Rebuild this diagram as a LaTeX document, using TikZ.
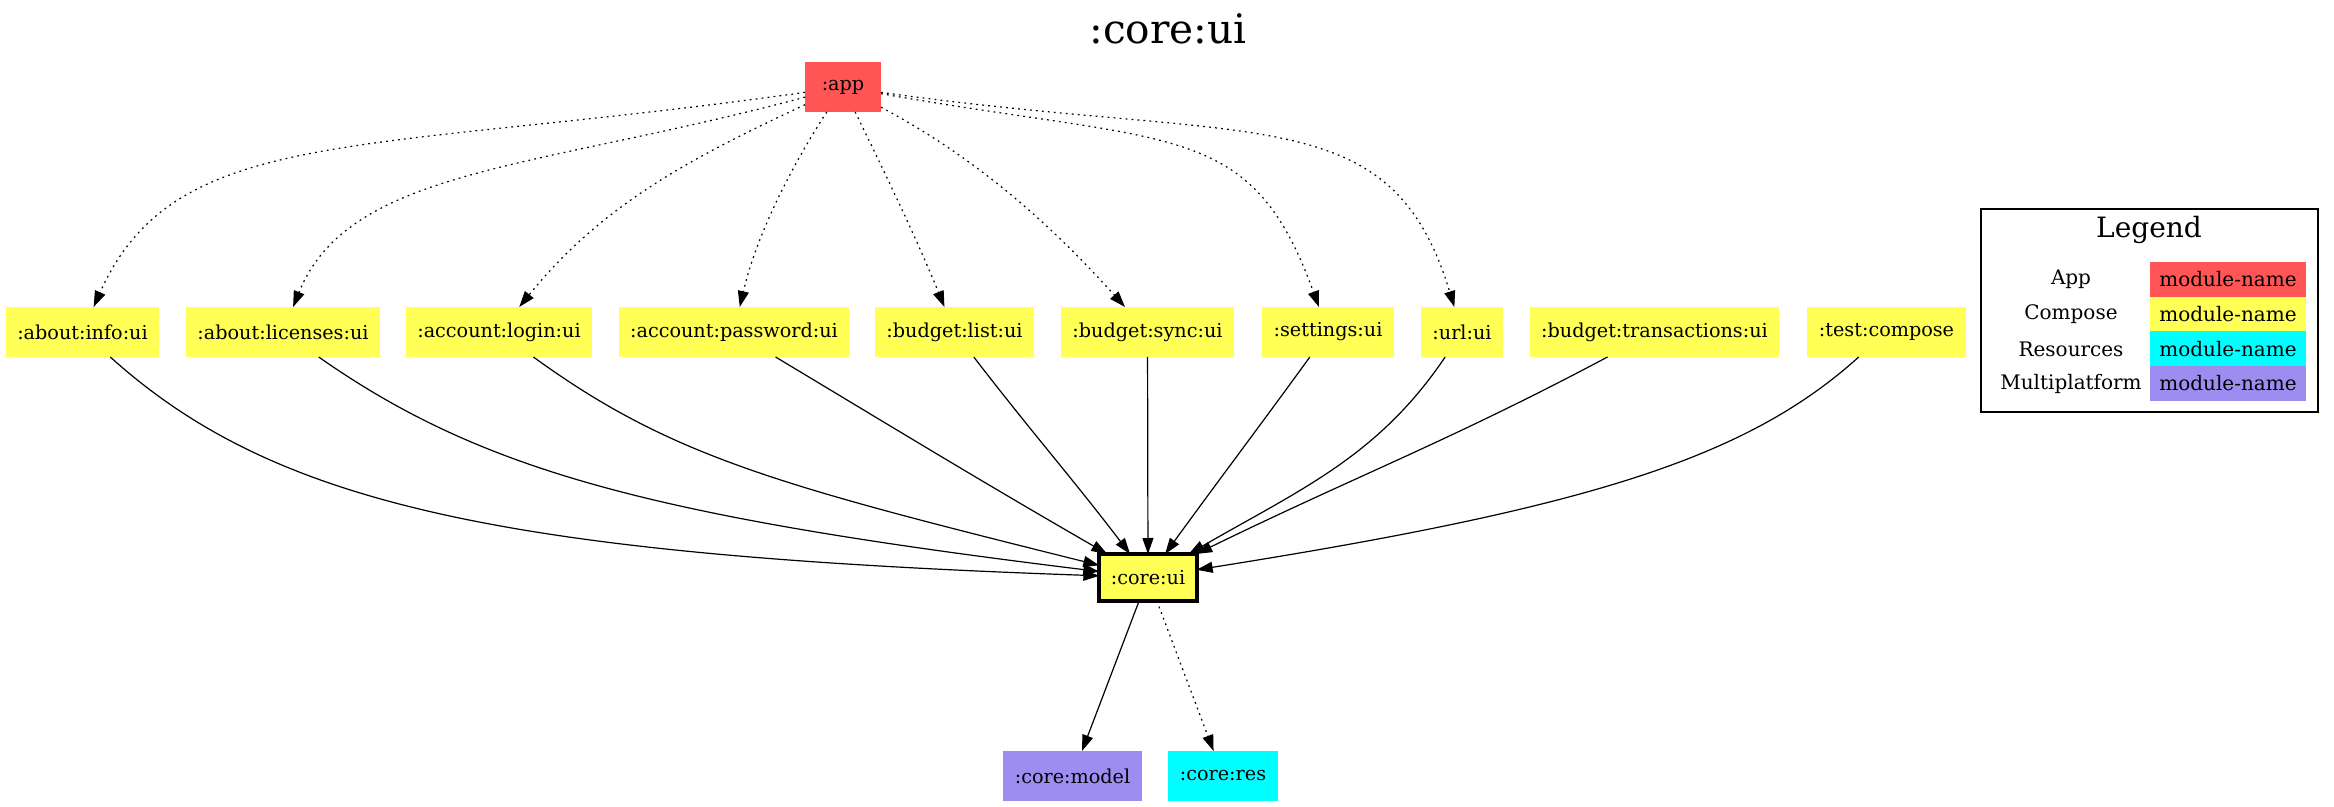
\documentclass[tikz,border=0pt]{standalone}
\usepackage{fontspec}
\setmainfont{DejaVu Serif}
\usepackage{tkz-graph}
\usetikzlibrary{arrows.meta}

\definecolor{appRed}{HTML}{FF5555}
\definecolor{composeYellow}{HTML}{FFFF55}
\definecolor{resCyan}{HTML}{00FFFF}
\definecolor{kmpPurple}{HTML}{9D8DF1}

\begin{document}
\begin{tikzpicture}[x = 0.5pt, y = 0.5pt]
\tikzstyle{VertexStyle} = []
\tikzstyle{EdgeStyle} = [line width = 0.6pt, -{Triangle[length = 8pt, width = 5.5pt]}]
\tikzstyle{LabelStyle} = [fill = none, inner sep = 0pt]
\tikzstyle{moduleStyle} = [shape = rectangle, minimum width = 38pt, minimum height = 25pt, inner xsep = 5.75pt, font = \fontsize{9.6}{11}\selectfont]
\tikzstyle{appStyle} = [moduleStyle, fill = appRed]
\tikzstyle{composeStyle} = [moduleStyle, fill = composeYellow]
\tikzstyle{resStyle} = [moduleStyle, fill = resCyan]
\tikzstyle{kmpStyle} = [moduleStyle, fill = kmpPurple]
\tikzstyle{focusStyle} = [composeStyle, draw, line width = 2pt, minimum height = 23.5pt]
\tikzstyle{depStyle} = [dash pattern = on 0.9pt off 2.1pt]
\tikzstyle{keyStyle} = [font = \fontsize{10}{12}\selectfont]
\tikzstyle{cellStyle} = [keyStyle, minimum width = 78pt, minimum height = 17.5pt, inner sep = 0pt]
\useasboundingbox (0, 0) rectangle (2334, -807);
\node[anchor = base, font = \fontsize{20.3}{24}\selectfont] (title) at (1168, -44) {:core:ui};
\Vertex[style = appStyle, x = 843, y = -87, L = {:app}]{app}
\Vertex[style = composeStyle, x = 82.5, y = -332, L = {:about:info:ui}]{info}
\Vertex[style = composeStyle, x = 283, y = -332, L = {:about:licenses:ui}]{licenses}
\Vertex[style = composeStyle, x = 499, y = -332, L = {:account:login:ui}]{login}
\Vertex[style = composeStyle, x = 734, y = -332, L = {:account:password:ui}]{password}
\Vertex[style = composeStyle, x = 954.5, y = -332, L = {:budget:list:ui}]{list}
\Vertex[style = composeStyle, x = 1147.5, y = -332, L = {:budget:sync:ui}]{sync}
\Vertex[style = composeStyle, x = 1328, y = -332, L = {:settings:ui}]{settings}
\Vertex[style = composeStyle, x = 1462, y = -332, L = {:url:ui}]{url}
\Vertex[style = composeStyle, x = 1654.5, y = -332, L = {:budget:transactions:ui}]{transactions}
\Vertex[style = composeStyle, x = 1886.5, y = -332, L = {:test:compose}]{compose}
\Vertex[style = focusStyle, x = 1148, y = -577.5, L = {:core:ui}]{coreui}
\Vertex[style = kmpStyle, x = 1072.5, y = -776, L = {:core:model}]{model}
\Vertex[style = resStyle, x = 1223, y = -776, L = {:core:res}]{res}
\Edge[style = {depStyle, out = 188, in = 66, out distance = 225pt, in distance = 100pt}](app)(info)
\Edge[style = {depStyle, out = 195, in = 68, out distance = 140pt, in distance = 75pt}](app)(licenses)
\Edge[style = {depStyle, out = 205, in = 51, out distance = 65pt, in distance = 65pt}](app)(login)
\Edge[style = {depStyle, out = 237, in = 77, out distance = 35pt, in distance = 35pt}](app)(password)
\Edge[style = {depStyle, out = -64, in = 112, out distance = 35pt, in distance = 35pt}](app)(list)
\Edge[style = {depStyle, out = -28, in = 132, out distance = 55pt, in distance = 55pt}](app)(sync)
\Edge[style = {depStyle, out = -10, in = 110, out distance = 150pt, in distance = 100pt}](app)(settings)
\Edge[style = {depStyle, out = -8, in = 107, out distance = 190pt, in distance = 110pt}](app)(url)
\Edge[style = {out = -42, in = 178, out distance = 110pt, in distance = 300pt}](info)(coreui)
\Edge[style = {out = -35, in = 173, out distance = 100pt, in distance = 225pt}](licenses)(coreui)
\Edge[style = {out = -36, in = 166, out distance = 85pt, in distance = 165pt}](login)(coreui)
\Edge[style = {out = -31, in = 150}](password)(coreui)
\Edge[style = {out = -52.5, in = 127.5}](list)(coreui)
\Edge(sync)(coreui)
\Edge[style = {out = 234, in = 54}](settings)(coreui)
\Edge[style = {out = 236, in = 30, out distance = 60pt, in distance = 65pt}](url)(coreui)
\Edge[style = {out = 208, in = 26}](transactions)(coreui)
\Edge[style = {out = 222, in = 9, out distance = 75pt, in distance = 200pt}](compose)(coreui)
\Edge(coreui)(model)
\Edge[style = {depStyle}](coreui)(res)
\node[draw, line width = 0.65pt, minimum width = 168.5pt, minimum height = 101.5pt, inner sep = 0pt] (legend) at (2149.5, -310.5) {};
\node[anchor = base, font = \fontsize{14}{16}\selectfont] (legendTitle) at (2149, -238) {Legend};
\node[keyStyle] (keyApp) at (2071, -279.5) {App};
\node[keyStyle] (keyCompose) at (2071, -314.5) {Compose};
\node[keyStyle] (keyRes) at (2071, -349) {Resources};
\node[keyStyle] (keyKmp) at (2071, -383.5) {Multiplatform};
\node[cellStyle, fill = appRed] (cellApp) at (2228, -279.5) {module-name};
\node[cellStyle, fill = composeYellow] (cellCompose) at (2228, -314.5) {module-name};
\node[cellStyle, fill = resCyan] (cellRes) at (2228, -349) {module-name};
\node[cellStyle, fill = kmpPurple] (cellKmp) at (2228, -383.5) {module-name};
\end{tikzpicture}
\end{document}
